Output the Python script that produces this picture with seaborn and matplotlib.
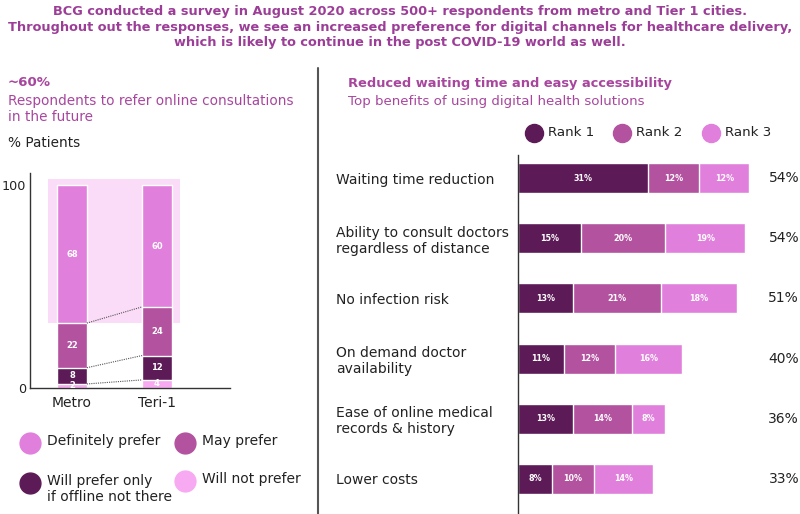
import numpy as np
import pandas as pd
import matplotlib.pyplot as plt
import seaborn as sns

sns.set_theme(style="white")
plt.rcParams['font.family'] = ['DejaVu Sans']

# --- data ---
cities = ['Metro', 'Teri-1']
will_not = [2, 4]
only_offline = [8, 12]
may_prefer = [22, 24]
definitely = [68, 60]

benefits = ['Waiting time reduction', 'Ability to consult doctors\nregardless of distance',
            'No infection risk', 'On demand doctor\navailability',
            'Ease of online medical\nrecords & history', 'Lower costs']
rank1 = [31, 15, 13, 11, 13, 8]
rank2 = [12, 20, 21, 12, 14, 10]
rank3 = [12, 19, 18, 16, 8, 14]
totals = ['54%', '54%', '51%', '40%', '36%', '33%']

c_r1 = '#5c1a56'
c_r2 = '#b3529f'
c_r3 = '#e07fdc'
c_not = '#f7a9f1'
c_hi = '#fbdcf8'
c_title = '#9c3d98'
c_sub = '#a8469e'

W, H = 800, 514
fig = plt.figure(figsize=(8, 5.14), dpi=100)

# background overlay in pixel coords for texts and legends
bg = fig.add_axes([0, 0, 1, 1])
bg.set_xlim(0, W)
bg.set_ylim(H, 0)
bg.axis('off')

title = ("BCG conducted a survey in August 2020 across 500+ respondents from metro and Tier 1 cities.\n"
         "Throughout out the responses, we see an increased preference for digital channels for healthcare delivery,\n"
         "which is likely to continue in the post COVID-19 world as well.")
bg.text(400, 27, title, ha='center', va='center', fontsize=9.3, fontweight='bold',
        color=c_title, linespacing=1.25)

bg.plot([318, 318], [68, H], color='#555555', lw=1.5)

bg.text(8, 83, '~60%', fontsize=9.6, fontweight='bold', color=c_sub, va='center')
bg.text(8, 109, 'Respondents to refer online consultations\nin the future', fontsize=9.8,
        color=c_sub, va='center', linespacing=1.25)
bg.text(8, 143, '% Patients', fontsize=9.8, color='#222222', va='center')

bg.text(348, 84, 'Reduced waiting time and easy accessibility', fontsize=9.4,
        fontweight='bold', color=c_sub, va='center')
bg.text(348, 101, 'Top benefits of using digital health solutions', fontsize=9.6,
        color=c_sub, va='center')

# right legend
for cx, col, lab in [(534, c_r1, 'Rank 1'), (622, c_r2, 'Rank 2'), (711, c_r3, 'Rank 3')]:
    bg.plot(cx, 133, 'o', ms=13, color=col)
    bg.text(cx + 14, 133, lab, fontsize=9.6, va='center', color='#222222')

# left legend
for cx, cy, col, lab in [(30, 443, c_r3, 'Definitely prefer'), (185, 443, c_r2, 'May prefer'),
                         (30, 483, c_r1, 'Will prefer only\nif offline not there'),
                         (185, 481, c_not, 'Will not prefer')]:
    bg.plot(cx, cy, 'o', ms=15, color=col)
    bg.text(cx + 17, cy - 9, lab, fontsize=10, va='top', color='#222222', linespacing=1.15)

# --- left chart: stacked columns ---
axl = fig.add_axes([30 / W, (H - 388) / H, 200 / W, (388 - 173) / H])
df_l = pd.DataFrame({'city': cities, 'not': will_not, 'only': only_offline,
                     'may': may_prefer, 'def': definitely})
df_l['c1'] = df_l['not']
df_l['c2'] = df_l['c1'] + df_l['only']
df_l['c3'] = df_l['c2'] + df_l['may']
df_l['c4'] = df_l['c3'] + df_l['def']

# highlight box behind the top segment
axl.add_patch(plt.Rectangle((-0.28, df_l['c3'].min()), 1.55, 103 - df_l['c3'].min(),
                            color=c_hi, zorder=0, lw=0))

for col, colour in [('c4', c_r3), ('c3', c_r2), ('c2', c_r1), ('c1', c_not)]:
    sns.barplot(data=df_l, x='city', y=col, color=colour, width=0.35, ax=axl,
                saturation=1, zorder=2)

bw = 0.35
for key in ['c1', 'c2', 'c3']:
    axl.plot([bw / 2, 1 - bw / 2], [df_l[key][0], df_l[key][1]], ls=(0, (1, 1)),
             color='#555555', lw=0.8, zorder=3)

for i in range(2):
    segs = [(0, df_l['c1'][i], will_not[i]), (df_l['c1'][i], df_l['c2'][i], only_offline[i]),
            (df_l['c2'][i], df_l['c3'][i], may_prefer[i]), (df_l['c3'][i], df_l['c4'][i], definitely[i])]
    for lo, hi, v in segs:
        axl.text(i, (lo + hi) / 2, str(v), ha='center', va='center', color='white',
                 fontsize=6, fontweight='bold', zorder=4)

axl.set_xlim(-0.494, 1.859)
axl.set_ylim(0, 106)
axl.set_yticks([0, 100])
axl.set_yticklabels(['0', '100'])
axl.set_xlabel('')
axl.set_ylabel('')
axl.tick_params(axis='x', length=0, labelsize=10, colors='#222222', pad=6)
axl.tick_params(axis='y', length=0, labelsize=9.2, colors='#222222', pad=3)
for s in ['top', 'right']:
    axl.spines[s].set_visible(False)
for s in ['left', 'bottom']:
    axl.spines[s].set_color('#333333')
    axl.spines[s].set_linewidth(1)
axl.patch.set_alpha(0)

# --- right chart: stacked horizontal bars ---
axr = fig.add_axes([518 / W, 0, (W - 518) / W, (H - 155) / H])
df_r = pd.DataFrame({'benefit': benefits, 'r1': rank1, 'r2': rank2, 'r3': rank3})
df_r['c1'] = df_r['r1']
df_r['c2'] = df_r['c1'] + df_r['r2']
df_r['c3'] = df_r['c2'] + df_r['r3']

for col, colour in [('c3', c_r3), ('c2', c_r2), ('c1', c_r1)]:
    sns.barplot(data=df_r, x=col, y='benefit', color=colour, orient='h', width=0.5,
                ax=axr, saturation=1)

for i in range(len(benefits)):
    segs = [(0, df_r['c1'][i], rank1[i]), (df_r['c1'][i], df_r['c2'][i], rank2[i]),
            (df_r['c2'][i], df_r['c3'][i], rank3[i])]
    for lo, hi, v in segs:
        axr.text((lo + hi) / 2, i, f'{v}%', ha='center', va='center', color='white',
                 fontsize=5.8, fontweight='bold')
    axr.text(66.8, i, totals[i], ha='right', va='center', fontsize=10, color='#222222')

axr.set_xlim(0, 67)
axr.set_ylim(5.583, -0.383)
axr.set_xlabel('')
axr.set_ylabel('')
axr.set_xticks([])
axr.tick_params(axis='y', length=0, pad=131, labelsize=10, colors='#222222')
for lab in axr.get_yticklabels():
    lab.set_ha('left')
for s in ['top', 'right', 'bottom']:
    axr.spines[s].set_visible(False)
axr.spines['left'].set_color('#333333')
axr.spines['left'].set_linewidth(1)
axr.patch.set_alpha(0)

plt.savefig('out.png', dpi=100)
